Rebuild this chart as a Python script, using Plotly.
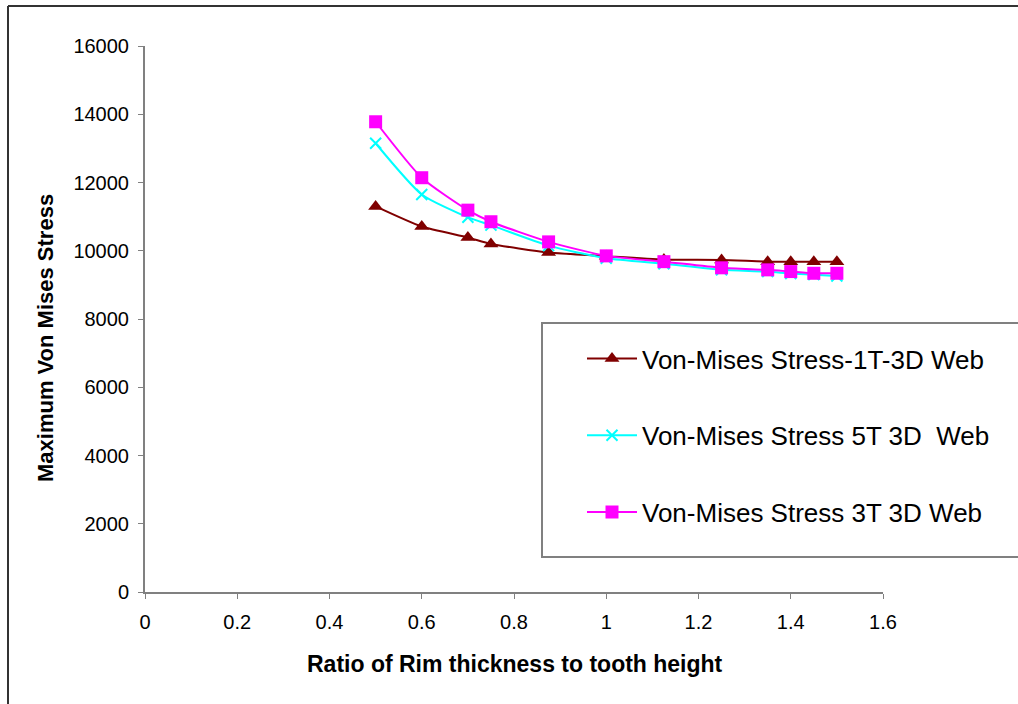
import plotly.graph_objects as go

# Ratio of rim thickness to tooth height
ratio = [0.5, 0.6, 0.7, 0.75, 0.875, 1.0, 1.125, 1.25, 1.35, 1.4, 1.45, 1.5]

# Maximum Von Mises stress for each web configuration
stress_1t = [11300, 10710, 10390, 10200, 9950, 9840, 9740, 9730, 9680, 9680, 9680, 9680]
stress_5t = [13150, 11650, 10980, 10750, 10150, 9780, 9620, 9440, 9390, 9330, 9300, 9260]
stress_3t = [13780, 12140, 11190, 10850, 10260, 9850, 9680, 9500, 9440, 9390, 9340, 9340]

series = [
    ("Von-Mises Stress-1T-3D Web", stress_1t, "#800000",
     dict(symbol="triangle-up", size=13, color="#800000")),
    ("Von-Mises Stress 5T 3D  Web", stress_5t, "#00FFFF",
     dict(symbol="x-thin", size=11, color="#00FFFF", line=dict(width=2, color="#00FFFF"))),
    ("Von-Mises Stress 3T 3D Web", stress_3t, "#FF00FF",
     dict(symbol="square", size=13, color="#FF00FF")),
]

fig = go.Figure()
for i, (name, ys, color, marker) in enumerate(series):
    fig.add_trace(go.Scatter(
        x=ratio, y=ys, name=name, mode="lines+markers",
        line=dict(color=color, width=2, shape="spline", smoothing=0.6),
        marker=marker, legendgroup=f"g{i}",
    ))

W, H = 1018, 704
L, R, T, B = 145, 135, 46, 112
pw, ph = W - L - R, H - T - B


def px_x(px):
    return (px - L) / pw


def px_y(py):
    return (H - B - py) / ph


FAMILY = "Arial, Liberation Sans, sans-serif"
tick_font = dict(family=FAMILY, size=20, color="black")

fig.update_layout(
    width=W, height=H,
    margin=dict(l=L, r=R, t=T, b=B),
    paper_bgcolor="white", plot_bgcolor="white",
    showlegend=True,
    legend=dict(
        x=px_x(582), y=px_y(335), xanchor="left", yanchor="top",
        bgcolor="rgba(0,0,0,0)", borderwidth=0,
        font=dict(family=FAMILY, size=26, color="black"),
        tracegroupgap=40, itemwidth=50,
    ),
    xaxis=dict(
        range=[0, 1.6], tickvals=[0, 0.2, 0.4, 0.6, 0.8, 1.0, 1.2, 1.4, 1.6],
        ticktext=["0", "0.2", "0.4", "0.6", "0.8", "1", "1.2", "1.4", "1.6"],
        showgrid=False, zeroline=False, showline=True, linecolor="#808080", linewidth=2,
        ticks="outside", ticklen=5, tickcolor="#808080", tickwidth=1,
        tickfont=tick_font, ticklabelstandoff=6,
    ),
    yaxis=dict(
        range=[0, 16000], tickvals=[0, 2000, 4000, 6000, 8000, 10000, 12000, 14000, 16000],
        showgrid=False, zeroline=False, showline=True, linecolor="#808080", linewidth=2,
        ticks="outside", ticklen=5, tickcolor="#808080", tickwidth=1,
        tickfont=tick_font, tickformat="d", ticklabelstandoff=5,
    ),
    annotations=[
        dict(text="<b>Ratio of Rim thickness to tooth height</b>",
             xref="paper", yref="paper", x=px_x(515), y=px_y(664),
             xanchor="center", yanchor="middle", showarrow=False,
             font=dict(family=FAMILY, size=23, color="black")),
        dict(text="<b>Maximum Von Mises Stress</b>",
             xref="paper", yref="paper", x=px_x(45), y=px_y(338),
             xanchor="center", yanchor="middle", showarrow=False, textangle=-90,
             font=dict(family=FAMILY, size=22, color="black")),
    ],
    shapes=[
        # legend frame
        dict(type="rect", xref="paper", yref="paper",
             x0=px_x(542), x1=px_x(1030), y0=px_y(557), y1=px_y(323),
             line=dict(color="#808080", width=2), fillcolor="rgba(0,0,0,0)", layer="below"),
        # chart area frame (left and top edges)
        dict(type="line", xref="paper", yref="paper",
             x0=px_x(8), x1=px_x(8), y0=px_y(710), y1=px_y(6),
             line=dict(color="#333333", width=2)),
        dict(type="line", xref="paper", yref="paper",
             x0=px_x(8), x1=px_x(1030), y0=px_y(6), y1=px_y(6),
             line=dict(color="#333333", width=2)),
    ],
)

fig.write_html("out.html")
